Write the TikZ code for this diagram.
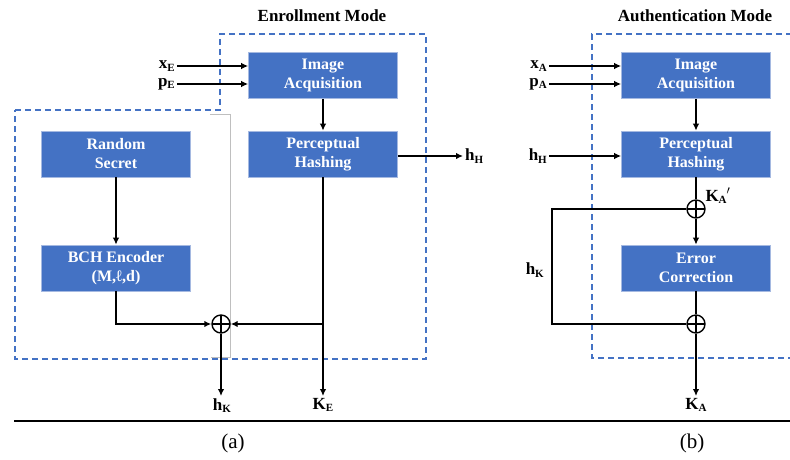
\documentclass[tikz,border=0pt]{standalone}
\usepackage{fontspec}
\setmainfont{Liberation Serif}
\usetikzlibrary{arrows.meta}
\definecolor{boxblue}{RGB}{68,114,196}
\definecolor{boxedge}{RGB}{165,185,225}
\newcommand{\sbs}[1]{\raisebox{-2.5pt}{\fontsize{11}{12}\selectfont #1}}
\begin{document}
\begin{tikzpicture}[x=1pt,y=1pt,
  blk/.style={draw=boxedge,line width=0.6pt,fill=boxblue,text=white,
    minimum width=149pt,minimum height=46pt,align=center,inner sep=0pt,
    font=\fontsize{16}{19}\selectfont\bfseries},
  lbl/.style={font=\fontsize{17}{19}\selectfont\bfseries,inner sep=2pt},
  ttl/.style={font=\fontsize{17}{19}\selectfont\bfseries},
  captxt/.style={font=\fontsize{21}{24}\selectfont},
  xorn/.style={circle,draw,line width=1.4pt,minimum size=18pt,inner sep=0pt,
    path picture={\draw[line width=1.4pt] (path picture bounding box.north) -- (path picture bounding box.south)
      (path picture bounding box.west) -- (path picture bounding box.east);}},
  ln/.style={line width=1.7pt},
  arr/.style={line width=1.7pt,-{Latex[length=7pt,width=6.5pt]}},
  dashbox/.style={draw=boxblue,line width=1.6pt,dash pattern=on 6pt off 4pt}]
\useasboundingbox (0,0) rectangle (790,-459);

% titles
\node[ttl] (t1) at (322,-16) {Enrollment Mode};
\node[ttl] (t2) at (695,-16) {Authentication Mode};

% dashed regions
\draw[dashbox] (15,-110) -- (220,-110) -- (220,-34) -- (426,-34) -- (426,-359) -- (15,-359) -- cycle;
\draw[black!25,line width=0.7pt] (210,-114) -- (230,-114) -- (230,-357) -- (211,-357);
\draw[dashbox] (792,-34) -- (592,-34) -- (592,-358) -- (792,-358);

% ---------- enrollment ----------
\node[blk] (ia1) at (323,-75.5) {Image\\Acquisition};
\node[blk] (ph1) at (323,-154) {Perceptual\\Hashing};
\node[blk] (rs)  at (116,-154) {Random\\Secret};
\node[blk] (bch) at (116,-268) {BCH Encoder\\(M,ℓ,d)};
\node[xorn] (x1) at (221,-324) {};
\coordinate (j1) at (323,-324);

\node[lbl,anchor=east] (xE) at (177,-66) {x\sbs{E}};
\node[lbl,anchor=east] (pE) at (177,-84) {p\sbs{E}};
\node[lbl,anchor=west] (hH1) at (463,-156) {h\sbs{H}};
\node[lbl,anchor=north] (hK1) at (222,-396) {h\sbs{K}};
\node[lbl,anchor=north] (KE) at (323,-396) {K\sbs{E}};

\draw[arr] (xE) -- (xE -| ia1.west);
\draw[arr] (pE) -- (pE -| ia1.west);
\draw[arr] (ia1) -- (ph1);
\draw[arr] (ph1.east |- hH1) -- (hH1);
\draw[arr] (rs) -- (bch);
\draw[arr] (bch.south) |- (x1.west);
\draw[arr] (j1) -- (x1.east);
\draw[arr] (ph1.south) -- (KE.north);
\draw[arr] (x1.south) -- (x1.south |- hK1.north);

% ---------- authentication ----------
\node[blk] (ia2) at (696,-75.5) {Image\\Acquisition};
\node[blk] (ph2) at (696,-154) {Perceptual\\Hashing};
\node[blk] (ec)  at (696,-268) {Error\\Correction};
\node[xorn] (x2a) at (696,-209) {};
\node[xorn] (x2b) at (696,-324) {};
\coordinate (c1) at (552,-209);
\coordinate (c2) at (552,-324);

\node[lbl,anchor=east] (xA) at (549,-66) {x\sbs{A}};
\node[lbl,anchor=east] (pA) at (549,-84) {p\sbs{A}};
\node[lbl,anchor=east] (hH2) at (549,-156) {h\sbs{H}};
\node[lbl,anchor=east] (hK2) at (546,-270) {h\sbs{K}};
\node[lbl] (KAp) at (718,-196) {K\sbs{A}$'$};
\node[lbl,anchor=north] (KA) at (696,-396) {K\sbs{A}};

\draw[arr] (xA) -- (xA -| ia2.west);
\draw[arr] (pA) -- (pA -| ia2.west);
\draw[arr] (hH2) -- (hH2 -| ph2.west);
\draw[arr] (ia2) -- (ph2);
\draw[ln] (ph2) -- (x2a);
\draw[arr] (x2a) -- (ec);
\draw[ln] (ec) -- (x2b);
\draw[arr] (x2b.south) -- (KA.north);
\draw[ln] (x2a.west) -- (c1) -- (c2) -- (x2b.west);

% rule and captions
\coordinate (r1) at (14,-421);
\coordinate (r2) at (790,-421);
\draw[line width=1.6pt] (r1) -- (r2);
\node[captxt] (ca) at (233,-443) {(a)};
\node[captxt] (cb) at (692,-443) {(b)};
\end{tikzpicture}
\end{document}
